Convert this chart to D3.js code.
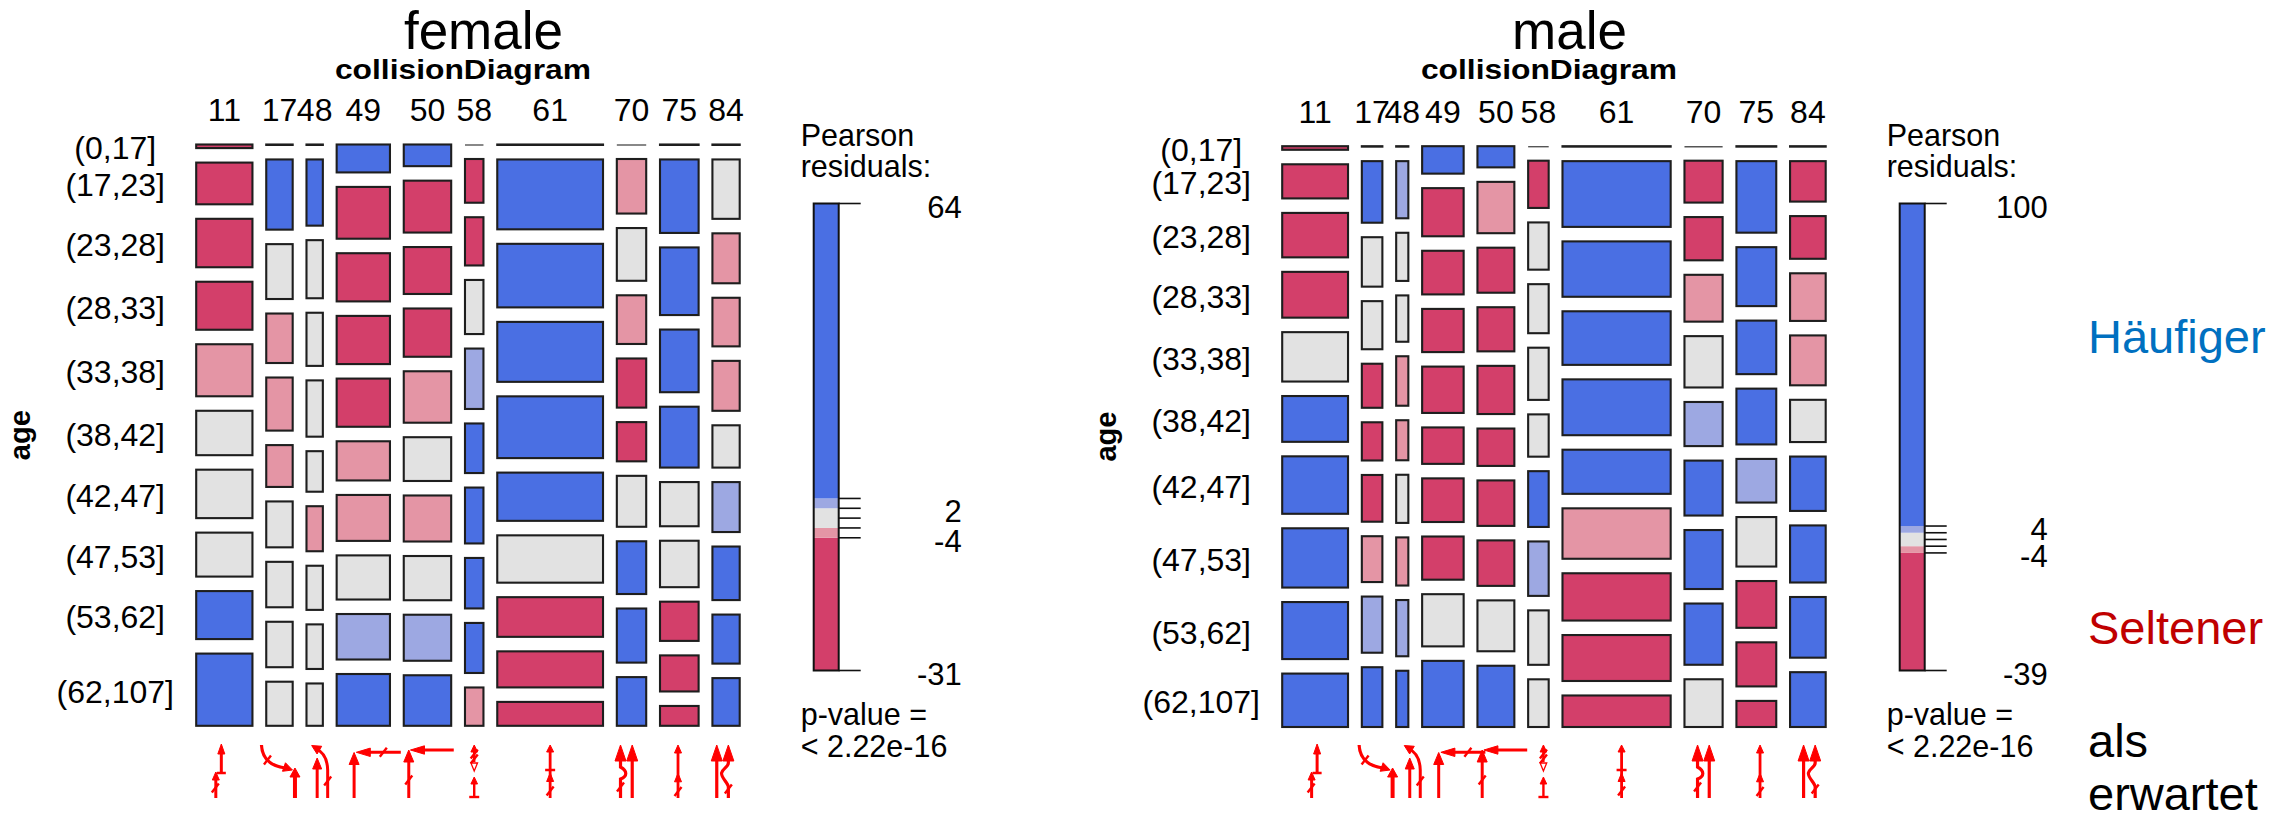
<!DOCTYPE html>
<html>
<head>
<meta charset="utf-8">
<script src="https://cdn.jsdelivr.net/npm/d3@7"></script>
<style>
  body { margin: 0; background: #fff; }
  text { font-family: "Liberation Sans", Arial, sans-serif; }
</style>
</head>
<body>
<script>
// categories of the two mosaic variables
const collisionTypes = ['11', '17', '48', '49', '50', '58', '61', '70', '75', '84'];
const ageGroups = ['(0,17]', '(17,23]', '(23,28]', '(28,33]', '(33,38]', '(38,42]', '(42,47]', '(47,53]', '(53,62]', '(62,107]'];

// column shares (% of all collisions) read from tile widths
const femaleColShare = [13.4, 6.3, 3.9, 12.7, 11.3, 4.4, 25.2, 7.0, 9.2, 6.5];
const maleColShare = [15.7, 4.9, 2.9, 9.9, 8.8, 4.9, 25.8, 9.1, 9.5, 8.5];

// age distribution (%) inside each collision type, one row per column
const femaleRowShare = [
  [0.8, 9.3, 10.8, 10.7, 11.6, 9.9, 10.8, 9.8, 10.7, 16.1],
  [0.1, 15.6, 12.2, 11.0, 11.8, 9.3, 10.2, 10.1, 10.1, 9.8],
  [0.1, 14.7, 12.9, 11.8, 12.5, 9.0, 10.0, 9.8, 9.9, 9.4],
  [6.2, 11.5, 10.7, 10.7, 10.7, 8.7, 10.2, 9.8, 10.1, 11.5],
  [4.8, 11.5, 10.4, 10.7, 11.4, 9.7, 10.2, 9.8, 10.2, 11.2],
  [0, 9.7, 10.7, 12.0, 13.4, 11.0, 12.4, 11.2, 11.1, 8.5],
  [0.1, 15.5, 14.1, 13.3, 13.7, 10.7, 10.5, 8.8, 8.0, 5.3],
  [0, 12.1, 11.7, 10.8, 10.9, 8.7, 11.3, 11.7, 12.0, 10.8],
  [0.1, 16.3, 15.0, 13.9, 13.5, 9.8, 10.3, 8.7, 8.0, 4.4],
  [0.1, 13.2, 11.1, 10.8, 11.1, 9.4, 11.1, 11.9, 10.9, 10.6]
];
const maleRowShare = [
  [0.8, 7.6, 9.9, 10.2, 11.0, 10.2, 12.8, 13.2, 12.7, 11.9],
  [0.1, 13.7, 11.0, 10.7, 9.8, 8.5, 10.4, 10.2, 12.5, 13.3],
  [0.1, 12.7, 10.7, 10.3, 11.0, 8.9, 10.7, 10.7, 12.5, 12.5],
  [6.1, 10.7, 9.7, 9.6, 10.3, 8.1, 9.7, 9.6, 11.6, 14.7],
  [4.7, 11.4, 10.0, 9.8, 10.7, 8.3, 10.1, 10.1, 11.3, 13.6],
  [0, 10.5, 10.5, 10.9, 11.6, 9.4, 12.4, 12.1, 12.1, 10.6],
  [0.1, 14.6, 12.3, 11.9, 12.4, 9.8, 11.2, 10.5, 10.2, 7.0],
  [0, 9.3, 9.6, 10.4, 11.4, 9.8, 12.2, 13.1, 13.6, 10.6],
  [0.1, 15.9, 13.1, 11.9, 12.4, 9.7, 11.0, 10.4, 9.8, 5.8],
  [0.1, 9.0, 9.5, 10.6, 11.1, 9.4, 12.1, 12.7, 13.5, 12.2]
];

// residual class per tile: 2 = >4, 1 = 2..4, 0 = -2..2, -1 = -4..-2, -2 = < -4
const femaleShade = [
  [-2, -2, -2, -2, -1, 0, 0, 0, 2, 2],
  [0, 2, 0, -1, -1, -1, 0, 0, 0, 0],
  [0, 2, 0, 0, 0, 0, -1, 0, 0, 0],
  [2, -2, -2, -2, -2, -1, -1, 0, 1, 2],
  [2, -2, -2, -2, -1, 0, -1, 0, 1, 2],
  [0, -2, -2, 0, 1, 2, 2, 2, 2, -1],
  [0, 2, 2, 2, 2, 2, 0, -2, -2, -2],
  [0, -1, 0, -1, -2, -2, 0, 2, 2, 2],
  [0, 2, 2, 2, 2, 0, 0, -2, -2, -2],
  [0, 0, -1, -1, -1, 0, 1, 2, 2, 2]
];
const maleShade = [
  [-2, -2, -2, -2, 0, 2, 2, 2, 2, 2],
  [0, 2, 0, 0, -2, -2, -2, -1, 1, 2],
  [0, 1, 0, 0, -1, -1, 0, -1, 1, 2],
  [2, -2, -2, -2, -2, -2, -2, -2, 0, 2],
  [2, -1, -2, -2, -2, -2, -2, -2, 0, 2],
  [0, -2, 0, 0, 0, 0, 2, 1, 0, 0],
  [0, 2, 2, 2, 2, 2, -1, -2, -2, -2],
  [0, -2, -2, -1, 0, 1, 2, 2, 2, 0],
  [0, 2, 2, 2, 2, 1, 0, -2, -2, -2],
  [0, -2, -2, -1, -1, 0, 2, 2, 2, 2]
];

// legend: residual range, labelled values, tick values, class breaks
const femaleResidRange = [-31, 64];
const femaleLegendLabels = [64, 2, -4, -31];
const maleResidRange = [-39, 100];
const maleLegendLabels = [100, 4, -4, -39];
const legendTicks = [4, 2, 0, -2, -4];
const shadeBreaks = [-4, -2, 2, 4];

const shadeColor = d3.scaleOrdinal()
  .domain([2, 1, 0, -1, -2])
  .range(['#4a6fe3', '#9da8e2', '#e2e2e2', '#e495a5', '#d33f6a']);

const W = 2296, H = 819;
const svg = d3.select('body').append('svg').attr('width', W).attr('height', H);

const RED = '#ff0000';

function seg(g, d, w) {
  g.append('path').attr('d', d).attr('fill', 'none').attr('stroke', RED)
    .attr('stroke-width', w || 3);
}
function head(g, tx, ty, dx, dy, len, hw) {
  const n = Math.hypot(dx, dy), ux = dx / n, uy = dy / n;
  const bx = tx - ux * len, by = ty - uy * len;
  const px = -uy, py = ux;
  g.append('path')
    .attr('d', `M${tx},${ty}L${bx + px * hw},${by + py * hw}L${bx - px * hw},${by - py * hw}Z`)
    .attr('fill', RED).attr('stroke', RED).attr('stroke-width', 1);
}
function slash(g, x, y) {
  seg(g, `M${x - 3.5},${y + 4.5}L${x + 3.5},${y - 4.5}`, 2.4);
}

// pictograms of the collision diagrams, local coords (0 = column centre, top of icon row)
const icons = {
  '11': g => {
    seg(g, 'M-3,28V6'); head(g, -3, -1, 0, -1, 10, 3.5);
    seg(g, 'M-7.5,28H1.5', 2.5);
    seg(g, 'M-8.5,53V33'); head(g, -8.5, 27, 0, -1, 8, 3.5);
    slash(g, -9, 43);
  },
  '17': g => {
    seg(g, 'M-18,0Q-17,20 6,23', 3.2); head(g, 13, 25, 1, 0.35, 9, 4.5);
    slash(g, -12, 15);
    seg(g, 'M15.5,53V30', 4); head(g, 15.5, 23, 0, -1, 9, 5);
  },
  '48': g => {
    seg(g, 'M2.5,53V20'); head(g, 2.5, 13, 0, -1, 11, 4.5);
    seg(g, 'M13,53V25Q12.5,9 2,4'); head(g, -3, 0.5, -1, -0.6, 9, 4.5);
    slash(g, 13, 36);
  },
  '49': g => {
    seg(g, 'M-9.2,53V14'); head(g, -9.2, 7.5, 0, -1, 12, 5);
    seg(g, 'M37.5,7.3H2'); head(g, -7, 7.3, -1, 0, 14, 4.2);
    slash(g, 20, 7.3);
  },
  '50': g => {
    seg(g, 'M-18.7,53V12'); head(g, -18.7, 5, 0, -1, 12, 5);
    seg(g, 'M26.3,5H-6'); head(g, -17, 5, -1, 0, 14, 4.2);
    slash(g, -18.7, 35);
  },
  '58': g => {
    seg(g, 'M0,17V5', 2.4); head(g, 0, 0, 0, -1, 7, 3.3);
    slash(g, 0, 9); slash(g, 0, 14);
    g.append('path').attr('d', 'M-3.3,18H3.3L0,26Z').attr('fill', '#fff')
      .attr('stroke', RED).attr('stroke-width', 1.3);
    seg(g, 'M0,52V38', 2.4); head(g, 0, 32, 0, -1, 7, 3.3);
    seg(g, 'M-5,52H5', 2.4);
  },
  '61': g => {
    seg(g, 'M0,53V5', 2.8); head(g, 0, 0, 0, -1, 7, 3.5);
    seg(g, 'M-5,25H5', 2.5);
    head(g, 0, 28, 0, -1, 8.5, 3.5);
    slash(g, 0, 46);
  },
  '70': g => {
    seg(g, 'M0.7,53V12', 3.2); head(g, 0.7, 0, 0, -1, 16, 5.5);
    seg(g, 'M-11,53V34C-4,31 -4,26 -11,22V12', 3.2); head(g, -11, 0, 0, -1, 16, 5.5);
    slash(g, -11, 42);
  },
  '75': g => {
    seg(g, 'M-1.3,53V5', 2.8); head(g, -1.3, 0, 0, -1, 8, 3.5);
    head(g, -1.3, 28.3, 0, -1, 8.5, 3.5);
    slash(g, -1.3, 46.5);
  },
  '84': g => {
    seg(g, 'M-9.3,53V12', 3.2); head(g, -9.3, 0, 0, -1, 16, 5.5);
    seg(g, 'M2.3,53V42C2.3,38 -5,33 -4.5,28C-4,24 2.3,22 2.3,18V12', 3.2); head(g, 2.3, 0, 0, -1, 16, 5.5);
    slash(g, 2.3, 44);
  }
};

function drawPanel(cfg) {
  const g = svg.append('g');
  const n = collisionTypes.length;
  const gapX = 13.8, gapY = 14.5;

  const xw = d3.scaleLinear().domain([0, d3.sum(cfg.colShare)])
    .range([0, cfg.width - gapX * (n - 1)]);
  let cx = 0;
  const cols = cfg.colShare.map((v, i) => {
    const c = { key: collisionTypes[i], x: cfg.left + xw(cx) + i * gapX, w: xw(v) };
    cx += v;
    return c;
  });

  const cells = [];
  cols.forEach((c, j) => {
    const shares = cfg.rowShare[j];
    const yh = d3.scaleLinear().domain([0, d3.sum(shares)])
      .range([0, cfg.height - gapY * (ageGroups.length - 1)]);
    let cum = 0;
    shares.forEach((v, i) => {
      cells.push({ col: j, row: i, x: c.x, w: c.w, y: cfg.top + yh(cum) + i * gapY, h: yh(v), v: v, s: cfg.shade[j][i] });
      cum += v;
    });
  });

  g.selectAll('rect.tile').data(cells.filter(d => d.v > 0)).join('rect')
    .attr('class', 'tile')
    .attr('x', d => d.x).attr('y', d => d.y)
    .attr('width', d => d.w).attr('height', d => d.h)
    .attr('fill', d => shadeColor(d.s))
    .attr('stroke', '#1e1e1e').attr('stroke-width', 2.1);

  g.selectAll('line.zero').data(cells.filter(d => d.v === 0)).join('line')
    .attr('class', 'zero')
    .attr('x1', d => d.x).attr('x2', d => d.x + d.w)
    .attr('y1', d => d.y + 0.5).attr('y2', d => d.y + 0.5)
    .attr('stroke', '#555').attr('stroke-width', 1.4);

  // column labels
  g.selectAll('text.col').data(cols).join('text')
    .attr('class', 'col')
    .attr('x', d => d.x + d.w / 2).attr('y', cfg.top - 23.5)
    .attr('text-anchor', 'middle').attr('font-size', 32)
    .text(d => d.key);

  // age labels aligned with the first column's tiles
  g.selectAll('text.row').data(cells.filter(d => d.col === 0)).join('text')
    .attr('class', 'row')
    .attr('x', cfg.left - 81).attr('y', d => d.y + d.h / 2 + 13)
    .attr('text-anchor', 'middle').attr('font-size', 32)
    .text(d => ageGroups[d.row]);

  g.append('text')
    .attr('transform', `translate(${cfg.left - 166},${cfg.top + cfg.height / 2}) rotate(-90)`)
    .attr('text-anchor', 'middle').attr('font-size', 29).attr('font-weight', 'bold')
    .text('age');

  const right = cfg.left + cfg.width;
  g.append('text')
    .attr('x', (cfg.left - 185 + right + 222) / 2 - 3).attr('y', 49)
    .attr('text-anchor', 'middle').attr('font-size', 53)
    .text(cfg.title);
  g.append('text')
    .attr('x', cfg.left + cfg.width / 2 - 5).attr('y', 79)
    .attr('text-anchor', 'middle').attr('font-size', 28).attr('font-weight', 'bold')
    .attr('textLength', 256).attr('lengthAdjust', 'spacingAndGlyphs')
    .text('collisionDiagram');

  // legend
  const lx = right + 74, lw = 25, lTop = 203.5, lBot = 670.5;
  const ly = d3.scaleLinear().domain(cfg.residRange).range([lBot, lTop]);
  const edges = [cfg.residRange[0], ...shadeBreaks, cfg.residRange[1]];
  const bands = d3.pairs(edges).map((p, i) => ({ lo: p[0], hi: p[1], s: i - 2 }));
  g.selectAll('rect.band').data(bands).join('rect')
    .attr('class', 'band')
    .attr('x', lx).attr('width', lw)
    .attr('y', d => ly(d.hi)).attr('height', d => ly(d.lo) - ly(d.hi))
    .attr('fill', d => shadeColor(d.s));
  g.append('rect').attr('x', lx).attr('y', lTop).attr('width', lw).attr('height', lBot - lTop)
    .attr('fill', 'none').attr('stroke', '#111').attr('stroke-width', 2);

  const ticks = [cfg.residRange[1], ...legendTicks, cfg.residRange[0]];
  g.selectAll('line.tick').data(ticks).join('line')
    .attr('class', 'tick')
    .attr('x1', lx + lw).attr('x2', lx + lw + 22)
    .attr('y1', d => ly(d)).attr('y2', d => ly(d))
    .attr('stroke', '#111').attr('stroke-width', 1.6);
  g.selectAll('text.leg').data(cfg.legendLabels).join('text')
    .attr('class', 'leg')
    .attr('x', right + 222).attr('y', d => ly(d) + 14)
    .attr('text-anchor', 'end').attr('font-size', 31)
    .text(d => d);

  const tx = right + 61;
  [['Pearson', 146], ['residuals:', 177], ['p-value =', 725], ['< 2.22e-16', 757]].forEach(t => {
    g.append('text').attr('x', tx).attr('y', t[1]).attr('font-size', 30.5).text(t[0]);
  });

  // collision pictograms under each column
  cols.forEach(c => {
    const ig = g.append('g')
      .attr('transform', `translate(${c.x + c.w / 2 + cfg.iconShift},745)`);
    icons[c.key](ig);
  });
}

drawPanel({
  title: 'female', left: 196.2, top: 144.5, width: 543.5, height: 581.3,
  colShare: femaleColShare, rowShare: femaleRowShare, shade: femaleShade,
  residRange: femaleResidRange, legendLabels: femaleLegendLabels, iconShift: 0
});
drawPanel({
  title: 'male', left: 1282.2, top: 146.2, width: 543.5, height: 580.8,
  colShare: maleColShare, rowShare: maleRowShare, shade: maleShade,
  residRange: maleResidRange, legendLabels: maleLegendLabels, iconShift: 5
});

// annotation on the right
const notes = [
  { t: 'Häufiger', y: 353, c: '#0070c0' },
  { t: 'Seltener', y: 644, c: '#c00000' },
  { t: 'als', y: 757, c: '#000' },
  { t: 'erwartet', y: 810, c: '#000' }
];
svg.selectAll('text.note').data(notes).join('text')
  .attr('class', 'note')
  .attr('x', 2088).attr('y', d => d.y)
  .attr('font-size', 47).attr('fill', d => d.c)
  .text(d => d.t);
</script>
</body>
</html>
